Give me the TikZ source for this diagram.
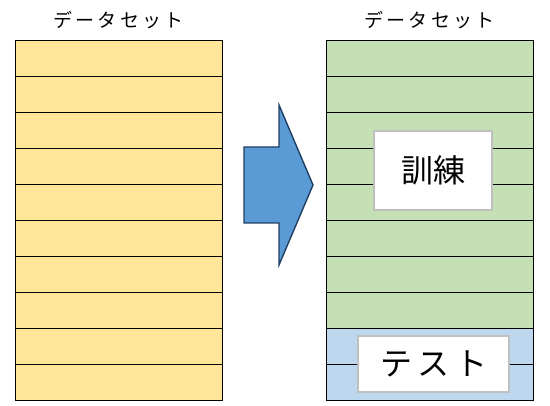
\documentclass[tikz,border=0pt]{standalone}
\usepackage{fontspec}
\setmainfont{Noto Sans CJK JP}
\definecolor{yel}{HTML}{FFE699}
\definecolor{grn}{HTML}{C5E0B4}
\definecolor{blu}{HTML}{BDD7EE}
\definecolor{arrfill}{HTML}{5B9BD5}
\definecolor{arrline}{HTML}{1F3F63}
\definecolor{boxline}{HTML}{BFBFBF}
\begin{document}
\begin{tikzpicture}[x=1pt,y=-1pt,
  cell/.style={draw=black,line width=0.9pt},
  title/.style={font=\fontsize{19}{22}\selectfont,text=black},
  labelbox/.style={draw=boxline,line width=1.8pt,fill=white,font=\fontsize{32}{36}\selectfont},
  bigarrow/.style={draw=arrline,line width=1.4pt,fill=arrfill,line join=miter}]
\useasboundingbox (0,0) rectangle (550,406);
% left stack
\foreach \i in {0,...,9}{
  \draw[cell,fill=yel] (15,40+\i*36) rectangle (222,76+\i*36);
}
\node[title] (t1) at (118.5,20) {デ\,ー\,タ\,セ\,ッ\,ト};
% right stack
\foreach \i in {0,...,7}{
  \draw[cell,fill=grn] (326,40+\i*36) rectangle (533,76+\i*36);
}
\foreach \i in {8,9}{
  \draw[cell,fill=blu] (326,40+\i*36) rectangle (533,76+\i*36);
}
\node[title] (t2) at (429.5,20) {デ\,ー\,タ\,セ\,ッ\,ト};
% arrow
\draw[bigarrow] (244,147) -- (279,147) -- (279,105) -- (313,185) -- (279,265) -- (279,223) -- (244,223) -- cycle;
% label boxes
\node[labelbox,minimum width=118pt,minimum height=79pt] (train) at (433.3,170.3) {訓練};
\node[labelbox,minimum width=151pt,minimum height=56pt] (test) at (433.8,363.7) {テ\,ス\,ト};
\end{tikzpicture}
\end{document}
